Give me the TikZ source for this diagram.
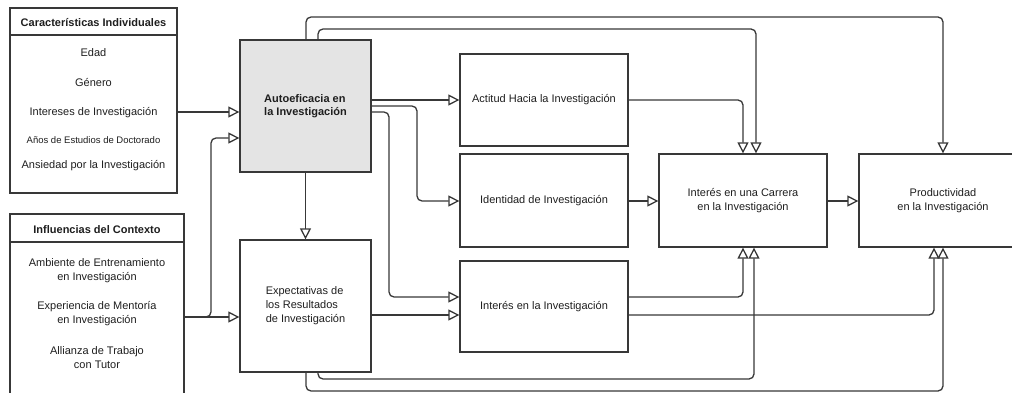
\documentclass[tikz,border=0pt]{standalone}
\usepackage{fontspec}
\setmainfont{Liberation Sans}
\usetikzlibrary{arrows.meta}
\definecolor{ln}{HTML}{383838}
\definecolor{tx}{HTML}{1E1E1E}
\definecolor{gfill}{HTML}{E4E4E4}
\begin{document}
\begin{tikzpicture}[x=1pt,y=-1pt,
  box/.style={draw=ln, line width=1.3pt, inner sep=0pt, text=tx,
    font=\fontsize{11}{14}\selectfont, align=center},
  txt/.style={text=tx, inner sep=0pt, font=\fontsize{11}{14}\selectfont, align=center},
  arr/.style={draw=ln, line width=1.3pt, rounded corners=5pt,
    -{Triangle[open, length=11pt, width=11pt]}},
  sep/.style={draw=ln, line width=1.3pt}]
\useasboundingbox (0,0) rectangle (1012,393);
% left boxes
\node[box, minimum width=167pt, minimum height=185pt] (ci) at (93.5,100.5) {};
\draw[sep] (ci.west |- 0,35) -- (ci.east |- 0,35);
\node[txt, anchor=base, font=\bfseries\fontsize{11}{14}\selectfont] (cih) at (93.5,27) {Características Individuales};
\node[txt, anchor=base] (ci1) at (93.5,57) {Edad};
\node[txt, anchor=base] (ci2) at (93.5,87) {Género};
\node[txt, anchor=base] (ci3) at (93.5,116) {Intereses de Investigación};
\node[txt, anchor=base, font=\fontsize{9.5}{12}\selectfont] (ci4) at (93.5,143.5) {Años de Estudios de Doctorado};
\node[txt, anchor=base] (ci5) at (93.5,168) {Ansiedad por la Investigación};

\node[box, minimum width=174pt, minimum height=216pt] (ic) at (97,322) {};
\draw[sep] (ic.west |- 0,242) -- (ic.east |- 0,242);
\node[txt, anchor=base, font=\bfseries\fontsize{11}{14}\selectfont] (ich) at (97,233) {Influencias del Contexto};
\node[txt] (ic1) at (97,270.5) {Ambiente de Entrenamiento\\en Investigación};
\node[txt] (ic2) at (97,314) {Experiencia de Mentoría\\en Investigación};
\node[txt] (ic3) at (97,357.5) {Allianza de Trabajo\\con Tutor};

% main boxes
\node[box, fill=gfill, minimum width=131pt, minimum height=132pt, align=left,
  font=\bfseries\fontsize{11}{13}\selectfont] (auto) at (305.5,106) {Autoeficacia en\\la Investigación};
\node[box, minimum width=131pt, minimum height=132pt, align=left] (exp) at (305.5,306) {Expectativas de\\los Resultados\\de Investigación};
\node[box, minimum width=168pt, minimum height=92pt] (act) at (544,100) {Actitud Hacia la Investigación};
\node[box, minimum width=168pt, minimum height=93pt] (ide) at (544,200.5) {Identidad de Investigación};
\node[box, minimum width=168pt, minimum height=91pt] (int) at (544,306.5) {Interés en la Investigación};
\node[box, minimum width=168pt, minimum height=93pt] (car) at (743,200.5) {Interés en una Carrera\\en la Investigación};
\node[box, minimum width=168pt, minimum height=93pt] (pro) at (943,200.5) {Productividad\\en la Investigación};

% connectors
\draw[arr] (ci.east |- 0,112) -- (auto.west |- 0,112);
\draw[arr] (ic.east |- 0,317) -- (exp.west |- 0,317);
\draw[arr] (ic.east |- 0,317) -- (211,317) -- (211,138) -- (auto.west |- 0,138);
\draw[arr] (auto.south) -- (exp.north);
\draw[arr] (auto.east |- 0,100) -- (act.west |- 0,100);
\draw[arr] (auto.east |- 0,106) -- (417,106) -- (417,201) -- (ide.west |- 0,201);
\draw[arr] (auto.east |- 0,112) -- (389,112) -- (389,297) -- (int.west |- 0,297);
\draw[arr] (exp.east |- 0,315) -- (int.west |- 0,315);
\draw[arr] (act.east |- 0,100) -- (743,100) -- (car.north -| 743,0);
\draw[arr] (auto.north -| 318,0) -- (318,29) -- (756,29) -- (car.north -| 756,0);
\draw[arr] (auto.north -| 306,0) -- (306,17) -- (943,17) -- (pro.north);
\draw[arr] (ide.east |- 0,201) -- (car.west |- 0,201);
\draw[arr] (car.east |- 0,201) -- (pro.west |- 0,201);
\draw[arr] (int.east |- 0,297) -- (743,297) -- (car.south -| 743,0);
\draw[arr] (int.east |- 0,315) -- (934,315) -- (pro.south -| 934,0);
\draw[arr] (exp.south -| 318,0) -- (318,379) -- (754,379) -- (car.south -| 754,0);
\draw[arr] (exp.south -| 306,0) -- (306,391) -- (943,391) -- (pro.south);
\end{tikzpicture}
\end{document}
